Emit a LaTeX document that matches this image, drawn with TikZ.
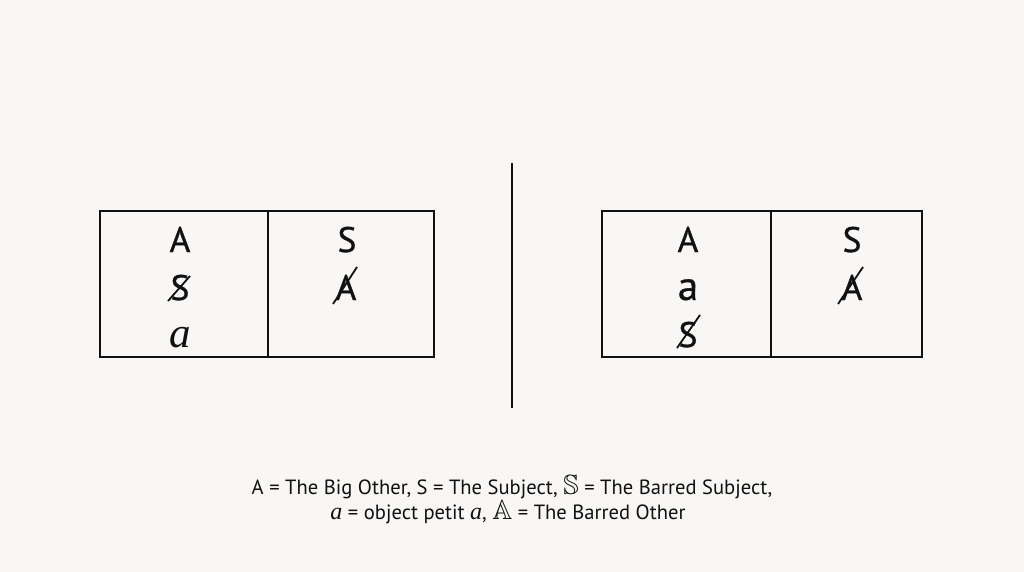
\documentclass[tikz,border=0pt]{standalone}
\usepackage{amssymb}
\usepackage{fontspec}
\setmainfont{PT Sans}
\newfontfamily\itserif{Liberation Serif}
\newfontfamily\boxfont[FakeBold=0.8]{PT Sans}
\definecolor{bg}{HTML}{F8F7F5}
\definecolor{ink}{HTML}{111111}
\begin{document}
\begin{tikzpicture}[x=1pt,y=-1pt,
  frame/.style={draw=ink,line width=2pt},
  glyph/.style={anchor=base,inner sep=0pt,text=ink,font=\fontsize{35.5}{35.5}\boxfont},
  smalla/.style={anchor=base,inner sep=0pt,text=ink,font=\fontsize{41}{41}\boxfont},
  ita/.style={anchor=base,inner sep=0pt,text=ink,font=\fontsize{43}{43}\itserif\itshape},
  bar/.style={draw=ink,line width=1.8pt},
  legend/.style={anchor=base,inner sep=0pt,text=ink,align=center,font=\fontsize{20.6}{23.5}\selectfont},
]
\fill[bg] (0,0) rectangle (1024,572);
\useasboundingbox (0,0) rectangle (1024,572);
% left diagram
\draw[frame] (100,211) rectangle (434,357);
\draw[frame] (268,211) -- (268,357);
\node[glyph] (lA) at (180,252) {A};
\node[glyph] (lS) at (180,300) {S};
\draw[bar] ([shift={(-12,1)}]lS.base) -- ([shift={(10,-24)}]lS.base);
\node[ita] (la) at (180,347) {a};
\node[glyph] (lS2) at (347,252) {S};
\node[glyph] (lAb) at (346,300) {A};
\draw[bar] ([shift={(-13,4)}]lAb.base) -- ([shift={(11,-33)}]lAb.base);
% separator
\draw[line width=2.5pt,draw=ink] (512,163) -- (512,408);
% right diagram
\draw[frame] (602,211) rectangle (922,357);
\draw[frame] (771,211) -- (771,357);
\node[glyph] (rA) at (688,252) {A};
\node[smalla] (ra) at (688,300) {a};
\node[glyph] (rS) at (688,347) {S};
\draw[bar] ([shift={(-11,1)}]rS.base) -- ([shift={(12,-32)}]rS.base);
\node[glyph] (rS2) at (852,252) {S};
\node[glyph] (rAb) at (852,300) {A};
\draw[bar] ([shift={(-14,4)}]rAb.base) -- ([shift={(11,-33)}]rAb.base);
% legend
\node[legend] (leg) at (512,519.5) {A = The Big Other, S = The Subject, \scalebox{1.35}{$\mathbb{S}$} = The Barred Subject,\\
\hspace*{-8pt}{\fontsize{24}{24}\itserif\itshape a} = object petit {\fontsize{24}{24}\itserif\itshape a}, \scalebox{1.35}{$\mathbb{A}$} = The Barred Other};
\end{tikzpicture}
\end{document}
